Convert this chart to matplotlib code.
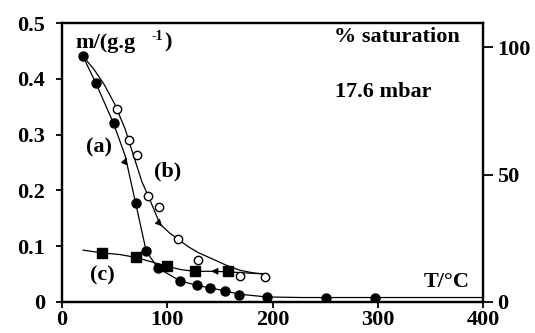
import matplotlib.pyplot as plt

plt.rcParams['font.family'] = ['Liberation Serif', 'DejaVu Serif']
plt.rcParams['font.weight'] = 'bold'

# (a) filled circles - experimental points
a_T = [20, 32, 49, 70, 80, 91, 112, 128, 141, 155, 168, 195, 251, 297]
a_m = [0.44, 0.393, 0.32, 0.177, 0.091, 0.061, 0.038, 0.030, 0.025, 0.020, 0.013, 0.009, 0.008, 0.008]
# (a) drawn curve
a_curve_T = [20, 32, 49, 60, 70, 80, 91, 112, 128, 141, 155, 168, 195, 230, 251, 297, 400]
a_curve_m = [0.44, 0.393, 0.32, 0.262, 0.177, 0.091, 0.061, 0.038, 0.030, 0.025, 0.020, 0.014, 0.009, 0.008, 0.008, 0.008, 0.008]

# (b) open circles
b_T = [52, 64, 71, 82, 92, 110, 129, 169, 193]
b_m = [0.346, 0.291, 0.264, 0.19, 0.17, 0.113, 0.075, 0.046, 0.045]
b_curve_T = [20, 30, 40, 50, 60, 68, 76, 82, 93, 102, 110, 120, 130, 143, 156, 169, 182, 195]
b_curve_m = [0.44, 0.418, 0.39, 0.355, 0.31, 0.262, 0.215, 0.19, 0.14, 0.124, 0.113, 0.099, 0.088, 0.077, 0.066, 0.057, 0.052, 0.050]

# (c) squares
c_T = [38, 70, 100, 126, 158]
c_m = [0.088, 0.080, 0.064, 0.055, 0.055]
c_curve_T = [20, 38, 55, 70, 85, 100, 113, 126, 143, 158, 175, 195]
c_curve_m = [0.093, 0.088, 0.085, 0.080, 0.072, 0.064, 0.058, 0.055, 0.055, 0.054, 0.052, 0.050]

x_ticks = [0, 100, 200, 300, 400]
y_ticks = [0, 0.1, 0.2, 0.3, 0.4, 0.5]
y_labels = ['0', '0.1', '0.2', '0.3', '0.4', '0.5']
sat_ticks = [0, 50, 100]

FS = 16

fig = plt.figure(figsize=(5.35, 3.33), dpi=100)
ax = fig.add_axes([0.1159, 0.0931, 0.7869, 0.8378])

ax.plot(a_curve_T, a_curve_m, color='black', lw=0.9)
ax.plot(b_curve_T, b_curve_m, color='black', lw=0.9)
ax.plot(c_curve_T, c_curve_m, color='black', lw=0.9)

ax.plot(a_T, a_m, 'o', color='black', ms=6.5, zorder=3)
ax.plot(b_T, b_m, 'o', mfc='white', mec='black', mew=1, ms=6, zorder=3)
ax.plot(c_T, c_m, 's', color='black', ms=6.5, zorder=3)

arrow = dict(arrowstyle='-|>', color='black', lw=0.8, mutation_scale=10)
ax.annotate('', xy=(62.5, 0.264), xytext=(60, 0.252), arrowprops=arrow)
ax.annotate('', xy=(97, 0.132), xytext=(93, 0.140), arrowprops=arrow)
ax.annotate('', xy=(139, 0.055), xytext=(147, 0.055), arrowprops=arrow)

ax.set_xlim(0, 400)
ax.set_ylim(0, 0.5)
ax.set_xticks(x_ticks)
ax.set_xticklabels([str(t) for t in x_ticks], fontsize=FS, fontweight='bold')
ax.set_yticks(y_ticks)
ax.set_yticklabels(y_labels, fontsize=FS, fontweight='bold')
ax.tick_params(axis='y', direction='out', length=4, width=1.3, pad=8)
ax.tick_params(axis='x', direction='out', length=4, width=1.3, pad=2)
for s in ax.spines.values():
    s.set_linewidth(1.6)

ax2 = ax.twinx()
ax2.set_ylim(0, 109.5)
ax2.set_yticks(sat_ticks)
ax2.set_yticklabels([str(t) for t in sat_ticks], fontsize=FS, fontweight='bold')
ax2.tick_params(direction='out', length=7, width=1.3, pad=3)
for s in ax2.spines.values():
    s.set_linewidth(1.6)

ax.text(0.031, 0.93, 'm/(g.g', transform=ax.transAxes, fontsize=FS,
        fontweight='bold', va='center', ha='left')
ax.text(0.212, 0.951, '-1', transform=ax.transAxes, fontsize=10,
        fontweight='bold', va='center', ha='left')
ax.text(0.242, 0.93, ')', transform=ax.transAxes, fontsize=FS,
        fontweight='bold', va='center', ha='left')
ax.text(0.945, 0.95, '% saturation', transform=ax.transAxes, fontsize=FS,
        fontweight='bold', va='center', ha='right')
ax.text(0.762, 0.754, '17.6 mbar', transform=ax.transAxes, fontsize=FS,
        fontweight='bold', va='center', ha='center')
ax.text(0.088, 0.554, '(a)', transform=ax.transAxes, fontsize=FS, fontweight='bold',
        va='center', ha='center')
ax.text(0.252, 0.468, '(b)', transform=ax.transAxes, fontsize=FS, fontweight='bold',
        va='center', ha='center')
ax.text(0.097, 0.096, '(c)', transform=ax.transAxes, fontsize=FS, fontweight='bold',
        va='center', ha='center')
ax.text(0.969, 0.071, 'T/°C', transform=ax.transAxes, fontsize=FS, fontweight='bold',
        va='center', ha='right')

fig.savefig('out.png', dpi=100)
